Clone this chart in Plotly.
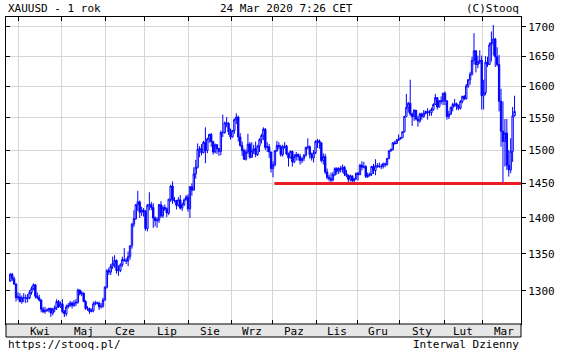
import math
import pandas as pd
import plotly.graph_objects as go

# ---------------- data ----------------
start_date = "2019-03-25"
end_date = "2020-03-24"

opens = [
    1313, 1322, 1316, 1309, 1291,
    1292, 1286, 1291, 1291, 1290, 1291, 1298, 1303, 1308, 1293, 1291, 1288, 1276, 1273, 1274, 1275, 1277, 1271, 1276, 1278, 1286, 1279,
    1283, 1273, 1270, 1279, 1281, 1284, 1281, 1284, 1285, 1301, 1296, 1297, 1286, 1277, 1277, 1273, 1274, 1283, 1284, 1284, 1279, 1280, 1288,
    1305, 1327, 1325, 1333, 1337, 1341, 1327, 1327, 1335, 1342, 1341, 1340, 1346, 1361, 1391, 1399, 1419, 1423, 1408, 1411,
    1409, 1385, 1418, 1419, 1415, 1400, 1396, 1397, 1419, 1403, 1415, 1413, 1407, 1427, 1446, 1425, 1425, 1418, 1426, 1414, 1419, 1426, 1430,
    1413, 1445, 1440, 1464, 1474, 1501, 1502, 1496, 1512, 1499, 1517, 1524, 1513, 1497, 1508, 1502, 1498, 1527, 1527, 1542, 1541, 1528,
    1520, 1530, 1547, 1551, 1520, 1507, 1499, 1486, 1497, 1509, 1489, 1499, 1502, 1493, 1506, 1516, 1522, 1532, 1504, 1505, 1497,
    1472, 1478, 1499, 1507, 1505, 1493, 1505, 1506, 1494, 1488, 1498, 1482, 1490, 1493, 1490, 1484, 1487, 1492, 1504, 1505, 1493, 1488, 1496,
    1513, 1514, 1511, 1484, 1490, 1467, 1459, 1457, 1455, 1463, 1472, 1468, 1472, 1471, 1474, 1464, 1462, 1456, 1461, 1454, 1457,
    1465, 1463, 1477, 1474, 1475, 1460, 1462, 1464, 1475, 1469, 1476, 1476, 1475, 1475, 1479, 1478, 1487, 1499, 1501, 1511, 1510, 1515,
    1517, 1519, 1528, 1552, 1566, 1573, 1556, 1552, 1562, 1548, 1545, 1556, 1552, 1557, 1560, 1558, 1558, 1563, 1571, 1582, 1567, 1577, 1576,
    1589, 1577, 1552, 1556, 1566, 1571, 1572, 1568, 1565, 1576, 1584, 1580, 1601, 1611, 1620, 1643, 1659, 1636, 1641, 1643,
    1585, 1590, 1640, 1636, 1669, 1673, 1679, 1649, 1636, 1576, 1529, 1513, 1526, 1477, 1470, 1498, 1553,
]
highs = [
    1324, 1324, 1319, 1310, 1298,
    1297, 1294, 1297, 1295, 1296, 1301, 1306, 1310, 1309, 1298, 1295, 1289, 1279, 1279, 1277, 1278, 1278, 1278, 1281, 1289, 1288, 1286,
    1289, 1275, 1282, 1284, 1287, 1286, 1288, 1289, 1303, 1302, 1300, 1298, 1288, 1280, 1278, 1277, 1286, 1287, 1286, 1286, 1284, 1291, 1306,
    1329, 1331, 1336, 1346, 1348, 1342, 1334, 1337, 1346, 1358, 1344, 1353, 1361, 1393, 1411, 1420, 1439, 1425, 1416, 1414,
    1411, 1420, 1437, 1423, 1421, 1402, 1401, 1420, 1424, 1418, 1419, 1415, 1427, 1448, 1453, 1430, 1426, 1430, 1433, 1422, 1428, 1433, 1434,
    1446, 1450, 1474, 1485, 1510, 1506, 1509, 1514, 1535, 1519, 1525, 1526, 1514, 1510, 1509, 1503, 1530, 1555, 1544, 1551, 1543, 1533,
    1531, 1549, 1557, 1553, 1526, 1513, 1502, 1501, 1525, 1512, 1512, 1508, 1513, 1508, 1518, 1525, 1535, 1534, 1512, 1509, 1497,
    1483, 1500, 1514, 1512, 1508, 1508, 1512, 1508, 1496, 1499, 1499, 1494, 1497, 1495, 1494, 1489, 1494, 1505, 1518, 1507, 1496, 1500, 1515,
    1517, 1516, 1512, 1495, 1494, 1472, 1463, 1466, 1467, 1474, 1474, 1474, 1476, 1478, 1476, 1470, 1463, 1463, 1462, 1458, 1466,
    1467, 1479, 1483, 1482, 1477, 1466, 1466, 1476, 1479, 1486, 1480, 1481, 1479, 1481, 1481, 1488, 1499, 1502, 1512, 1514, 1517, 1524,
    1520, 1529, 1553, 1588, 1575, 1611, 1558, 1563, 1562, 1553, 1558, 1558, 1562, 1561, 1565, 1562, 1566, 1573, 1588, 1583, 1578, 1584, 1590,
    1592, 1577, 1561, 1568, 1574, 1580, 1574, 1571, 1578, 1585, 1586, 1604, 1612, 1624, 1649, 1689, 1660, 1651, 1660, 1651,
    1611, 1650, 1649, 1673, 1692, 1703, 1681, 1665, 1652, 1596, 1576, 1548, 1548, 1500, 1518, 1567, 1585,
]
lows = [
    1312, 1313, 1308, 1286, 1288,
    1285, 1283, 1285, 1284, 1285, 1289, 1295, 1301, 1290, 1289, 1286, 1272, 1271, 1270, 1273, 1272, 1266, 1268, 1272, 1275, 1278, 1278,
    1271, 1266, 1267, 1277, 1279, 1277, 1279, 1280, 1283, 1294, 1293, 1285, 1275, 1274, 1270, 1272, 1272, 1281, 1282, 1275, 1277, 1278, 1287,
    1303, 1321, 1321, 1329, 1331, 1323, 1320, 1325, 1332, 1339, 1336, 1333, 1342, 1357, 1387, 1397, 1410, 1400, 1403, 1402,
    1382, 1381, 1411, 1411, 1386, 1388, 1386, 1393, 1400, 1400, 1410, 1401, 1404, 1423, 1420, 1422, 1412, 1416, 1412, 1410, 1417, 1425, 1409,
    1400, 1432, 1440, 1457, 1472, 1489, 1492, 1495, 1480, 1495, 1511, 1505, 1493, 1495, 1494, 1491, 1492, 1520, 1525, 1535, 1523, 1516,
    1519, 1525, 1540, 1513, 1505, 1491, 1485, 1484, 1494, 1487, 1488, 1494, 1489, 1491, 1497, 1510, 1515, 1500, 1497, 1488, 1466,
    1459, 1475, 1497, 1501, 1490, 1490, 1502, 1492, 1475, 1487, 1475, 1480, 1484, 1484, 1478, 1480, 1483, 1490, 1501, 1487, 1484, 1481, 1494,
    1503, 1502, 1481, 1478, 1464, 1456, 1453, 1452, 1453, 1461, 1463, 1464, 1466, 1466, 1461, 1459, 1452, 1453, 1452, 1452, 1455,
    1454, 1462, 1469, 1472, 1458, 1458, 1460, 1461, 1464, 1462, 1473, 1473, 1471, 1472, 1474, 1476, 1486, 1497, 1499, 1508, 1509, 1514,
    1516, 1518, 1527, 1552, 1558, 1553, 1537, 1545, 1546, 1536, 1542, 1547, 1550, 1555, 1547, 1553, 1553, 1561, 1570, 1563, 1566, 1571, 1570,
    1570, 1547, 1548, 1554, 1560, 1567, 1562, 1562, 1563, 1573, 1578, 1579, 1598, 1603, 1618, 1636, 1623, 1630, 1637, 1563,
    1563, 1586, 1632, 1636, 1641, 1651, 1632, 1633, 1560, 1505, 1451, 1475, 1470, 1460, 1465, 1482, 1552,
]
closes = [
    1322, 1316, 1309, 1291, 1292,
    1286, 1291, 1291, 1290, 1291, 1298, 1303, 1308, 1293, 1291, 1288, 1276, 1273, 1274, 1275, 1277, 1271, 1276, 1278, 1286, 1279, 1283,
    1273, 1270, 1279, 1281, 1284, 1281, 1284, 1285, 1301, 1296, 1297, 1286, 1277, 1277, 1273, 1274, 1283, 1284, 1284, 1279, 1280, 1288, 1305,
    1327, 1325, 1333, 1337, 1341, 1327, 1327, 1335, 1342, 1341, 1340, 1346, 1361, 1391, 1399, 1419, 1423, 1408, 1411, 1409,
    1385, 1418, 1419, 1415, 1400, 1396, 1397, 1419, 1403, 1415, 1413, 1407, 1427, 1446, 1425, 1425, 1418, 1426, 1414, 1419, 1426, 1430, 1413,
    1445, 1440, 1464, 1474, 1501, 1502, 1496, 1512, 1499, 1517, 1524, 1513, 1497, 1508, 1502, 1498, 1527, 1527, 1542, 1541, 1528, 1520,
    1530, 1547, 1551, 1520, 1507, 1499, 1486, 1497, 1509, 1489, 1499, 1502, 1493, 1506, 1516, 1522, 1532, 1504, 1505, 1497, 1472,
    1478, 1499, 1507, 1505, 1493, 1505, 1506, 1494, 1488, 1498, 1482, 1490, 1493, 1490, 1484, 1487, 1492, 1504, 1505, 1493, 1488, 1496, 1513,
    1514, 1511, 1484, 1490, 1467, 1459, 1457, 1455, 1463, 1472, 1468, 1472, 1471, 1474, 1464, 1462, 1456, 1461, 1454, 1457, 1465,
    1463, 1477, 1474, 1475, 1460, 1462, 1464, 1475, 1469, 1476, 1476, 1475, 1475, 1479, 1478, 1487, 1499, 1501, 1511, 1510, 1515, 1517,
    1519, 1528, 1552, 1566, 1573, 1556, 1552, 1562, 1548, 1545, 1556, 1552, 1557, 1560, 1558, 1558, 1563, 1571, 1582, 1567, 1577, 1576, 1589,
    1577, 1552, 1556, 1566, 1571, 1572, 1568, 1565, 1576, 1584, 1580, 1601, 1611, 1620, 1643, 1659, 1636, 1641, 1643, 1585,
    1590, 1640, 1636, 1669, 1673, 1679, 1649, 1636, 1576, 1529, 1513, 1526, 1477, 1470, 1498, 1553, 1560,
]

month_labels = ["Kwi", "Maj", "Cze", "Lip", "Sie", "Wrz", "Paz", "Lis", "Gru", "Sty", "Lut", "Mar"]
first_month = "2019-04-01"
y_ticks = [1300, 1350, 1400, 1450, 1500, 1550, 1600, 1650, 1700]
y_tick_text = [str(v) for v in y_ticks]
support_level = 1450
support_start = "2019-10-02 06:00"
x_range = ["2019-03-21 07:12", "2020-03-27 20:00"]
y_range = [1257, 1717]

title_left = "XAUUSD - 1 rok"
title_mid = "24 Mar 2020 7:26 CET"
title_right = "(C)Stooq"
foot_left = "https://stooq.pl/"
foot_right = "Interwal Dzienny"

# ---------------- build ----------------
dates = pd.bdate_range(start_date, end_date)
assert len(dates) == len(opens) == len(highs) == len(lows) == len(closes)
bar_x = dates + pd.Timedelta(hours=12)

month_starts = pd.date_range(first_month, periods=len(month_labels), freq="MS")
grid_x, label_x = [], []
for m in month_starts:
    bd = pd.bdate_range(m, m + pd.offsets.MonthEnd(0))
    grid_x.append(bd[0])
    n = len(bd)
    label_x.append(bd[n // 2] + pd.Timedelta(hours=12 if n % 2 else 0))

W, H = 561, 352
ml, mr, mt, mb = 6, 36, 17, 28
ph = H - mt - mb
FONT = "DejaVu Sans Mono"
BLUE = "#0000ff"
GRID = "#d6d6d6"
yr = [math.log10(y_range[0]), math.log10(y_range[1])]

fig = go.Figure()
fig.add_trace(go.Candlestick(
    x=bar_x, open=opens, high=highs, low=lows, close=closes,
    increasing=dict(line=dict(color=BLUE, width=1), fillcolor="#ffffff"),
    decreasing=dict(line=dict(color=BLUE, width=1), fillcolor=BLUE),
    whiskerwidth=0, hoverinfo="skip", showlegend=False,
))
fig.add_trace(go.Scatter(
    x=[support_start, x_range[1]], y=[support_level, support_level],
    mode="lines", line=dict(color="#ec1c24", width=3),
    yaxis="y2", hoverinfo="skip", showlegend=False,
))

annotations = []
for lab, xc in zip(month_labels, label_x):
    annotations.append(dict(x=xc, xref="x", y=-7.5 / ph, yref="paper", text=lab,
                            showarrow=False, xanchor="center", yanchor="middle",
                            font=dict(family=FONT, size=11, color="#000")))
hy = 1 + 8.5 / ph
annotations += [
    dict(x=0, xref="paper", y=hy, yref="paper", text=title_left, showarrow=False,
         xanchor="left", yanchor="middle", font=dict(family=FONT, size=11, color="#000")),
    dict(x=(289 - ml) / (W - ml - mr), xref="paper", y=hy, yref="paper", text=title_mid, showarrow=False,
         xanchor="center", yanchor="middle", font=dict(family=FONT, size=11, color="#000")),
    dict(x=1, xref="paper", y=hy, yref="paper", text=title_right, showarrow=False,
         xanchor="right", yanchor="middle", font=dict(family=FONT, size=11, color="#000")),
]
fy = -20.5 / ph
annotations += [
    dict(x=0, xref="paper", y=fy, yref="paper", text=foot_left, showarrow=False,
         xanchor="left", yanchor="middle", font=dict(family=FONT, size=11, color="#000")),
    dict(x=1, xref="paper", y=fy, yref="paper", text=foot_right, showarrow=False,
         xanchor="right", yanchor="middle", font=dict(family=FONT, size=11, color="#000")),
]

fig.update_layout(
    width=W, height=H,
    margin=dict(l=ml, r=mr, t=mt, b=mb, pad=0),
    paper_bgcolor="white", plot_bgcolor="white",
    font=dict(family=FONT, size=11, color="#000"),
    showlegend=False, hovermode=False, boxgap=0,
    xaxis=dict(
        type="date", range=x_range, rangebreaks=[dict(bounds=["sat", "mon"])],
        rangeslider=dict(visible=False),
        tickmode="array", tickvals=grid_x, showticklabels=False,
        ticks="inside", ticklen=4, tickcolor="#000",
        showline=True, linecolor="#000", linewidth=1, mirror="ticks",
        showgrid=True, gridcolor=GRID, gridwidth=1, zeroline=False,
    ),
    yaxis=dict(
        type="log", range=yr, side="right",
        tickmode="array", tickvals=y_ticks, ticktext=y_tick_text,
        ticks="outside", ticklen=4, tickcolor="#000",
        tickfont=dict(family=FONT, size=11, color="#000"),
        showline=True, linecolor="#000", linewidth=1,
        showgrid=True, gridcolor=GRID, gridwidth=1, zeroline=False,
    ),
    yaxis2=dict(
        type="log", range=yr, side="left", overlaying="y",
        tickmode="array", tickvals=y_ticks, showticklabels=False,
        ticks="inside", ticklen=4, tickcolor="#000",
        showline=True, linecolor="#000", linewidth=1,
        showgrid=False, zeroline=False,
    ),
    shapes=[dict(type="rect", xref="paper", yref="paper", x0=0, x1=1,
                 y0=-13 / ph, y1=0, fillcolor="#e6e6e6",
                 line=dict(color="#000", width=1), layer="above")],
    annotations=annotations,
)

fig.write_html("out.html", config={"displayModeBar": False})
